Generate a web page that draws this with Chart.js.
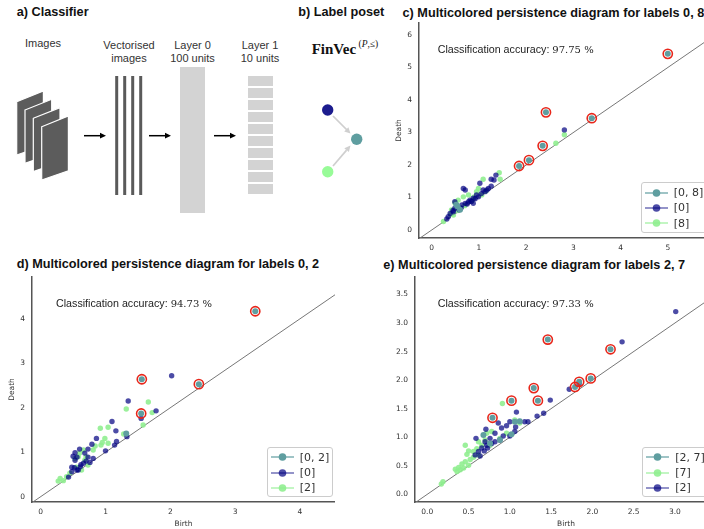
<!DOCTYPE html>
<html>
<head>
<meta charset="utf-8">
<script src="https://cdn.jsdelivr.net/npm/chart.js@4.4.1/dist/chart.umd.min.js"></script>
<style>
html, body { margin: 0; padding: 0; width: 704px; height: 529px; overflow: hidden; background: #fff; position: relative; font-family: 'Liberation Sans', Arial, sans-serif; }
.title { position: absolute; font-weight: bold; font-size: 12.7px; line-height: 14px; color: #111; white-space: nowrap; }
.acc { position: absolute; font-size: 10.7px; line-height: 12px; color: #222; white-space: nowrap; }
.acc span { font-family: 'DejaVu Serif', serif; font-size: 10px; }
canvas { position: absolute; }
.legend { position: absolute; box-sizing: border-box; border: 1px solid #ccc; border-radius: 3px; background: rgba(255,255,255,0.85); font-family: 'DejaVu Sans', sans-serif; font-size: 11px; color: #333; padding-top: 2px; }
.legend .row { height: 15.3px; display: flex; align-items: center; white-space: nowrap; }
.legend svg { margin-left: 3px; margin-right: 6px; }
</style>
</head>
<body>

<!-- a) classifier sketch and b) label poset -->
<svg style="position:absolute;left:0;top:0" width="400" height="230">
  <g font-family="Liberation Sans, Arial, sans-serif" font-size="11" fill="#333" text-anchor="middle">
    <text x="43" y="47">Images</text>
    <text x="129" y="49">Vectorised</text>
    <text x="129" y="62">images</text>
    <text x="192.5" y="49">Layer 0</text>
    <text x="192.5" y="62">100 units</text>
    <text x="260" y="49">Layer 1</text>
    <text x="260" y="62">10 units</text>
  </g>
  <g fill="#5c5c5c" stroke="#fff" stroke-width="1.2">
    <polygon points="16.7,101.7 43.4,91 43.4,145.7 16.7,155"/>
    <polygon points="25,110 51.7,99.3 51.7,154 25,163.3"/>
    <polygon points="33.3,118.3 60,107.6 60,162.3 33.3,171.6"/>
    <polygon points="41.7,126.7 68.4,116 68.4,170.7 41.7,180"/>
  </g>
  <g fill="#5a5a5a">
    <rect x="115.2" y="76" width="3" height="119"/>
    <rect x="123.2" y="76" width="3" height="119"/>
    <rect x="131.2" y="76" width="3" height="119"/>
    <rect x="139.2" y="76" width="3" height="119"/>
  </g>
  <rect x="180" y="67" width="25" height="146" fill="#d3d3d3"/>
  <g fill="#d3d3d3">
    <rect x="248" y="76" width="25" height="10"/>
    <rect x="248" y="88" width="25" height="10"/>
    <rect x="248" y="100" width="25" height="10"/>
    <rect x="248" y="112" width="25" height="10"/>
    <rect x="248" y="124" width="25" height="10"/>
    <rect x="248" y="136" width="25" height="10"/>
    <rect x="248" y="148" width="25" height="10"/>
    <rect x="248" y="160" width="25" height="10"/>
    <rect x="248" y="172" width="25" height="10"/>
    <rect x="248" y="184" width="25" height="10"/>
  </g>
  <g stroke="#000" stroke-width="1.5">
    <line x1="84" y1="135.7" x2="101" y2="135.7"/>
    <line x1="149" y1="135.7" x2="166" y2="135.7"/>
    <line x1="214" y1="135.7" x2="231" y2="135.7"/>
  </g>
  <g fill="#000">
    <polygon points="106,135.7 100,132.8 100,138.6"/>
    <polygon points="171,135.7 165,132.8 165,138.6"/>
    <polygon points="236,135.7 230,132.8 230,138.6"/>
  </g>

  <text x="311.7" y="54" font-family="Liberation Serif, Times New Roman, serif" font-weight="bold" font-size="15" fill="#111">FinVec</text>
  <text x="358.5" y="46.5" font-family="Liberation Serif, Times New Roman, serif" font-size="9.5" fill="#111">(<tspan font-style="italic">P</tspan>,≤)</text>
  <g stroke="#cfcfcf" stroke-width="1.7">
    <line x1="333" y1="116" x2="347" y2="130"/>
    <line x1="333" y1="166" x2="346.6" y2="150.1"/>
  </g>
  <g fill="#cfcfcf">
    <polygon points="350.5,133.5 344.2,131.4 348.4,127.2"/>
    <polygon points="350.5,145.5 348.9,152.1 344.3,148.2"/>
  </g>
  <circle cx="327.7" cy="110" r="5.7" fill="#1c1c8e"/>
  <circle cx="356.7" cy="139.3" r="5.7" fill="#5f9ea0"/>
  <circle cx="327.7" cy="171.7" r="5.7" fill="#98fb98"/>
</svg>

<div class="title" style="left:16.7px;top:4.7px">a) Classifier</div>
<div class="title" style="left:298.3px;top:4.7px">b) Label poset</div>
<div class="title" style="left:402.5px;top:6.3px">c) Multicolored persistence diagram for labels 0, 8</div>
<div class="title" style="left:16.7px;top:257px">d) Multicolored persistence diagram for labels 0, 2</div>
<div class="title" style="left:383.3px;top:258.3px">e) Multicolored persistence diagram for labels 2, 7</div>

<canvas id="chartC" width="326" height="243" style="left:389px;top:11px;width:326px;height:243px"></canvas>
<canvas id="chartD" width="333" height="267" style="left:2px;top:265px;width:333px;height:267px"></canvas>
<canvas id="chartE" width="332" height="267" style="left:385px;top:265px;width:332px;height:267px"></canvas>

<div class="acc" style="left:437.7px;top:43px">Classification accuracy: <span>97.75 %</span></div>
<div class="acc" style="left:56px;top:297px">Classification accuracy: <span>94.73 %</span></div>
<div class="acc" style="left:437.7px;top:297px">Classification accuracy: <span>97.33 %</span></div>

<div class="legend" id="legendC" style="left:640.7px;top:182px;width:68px;height:51px"></div>
<div class="legend" id="legendD" style="left:266.7px;top:446.7px;width:66.6px;height:50px"></div>
<div class="legend" id="legendE" style="left:642.3px;top:446.7px;width:68px;height:50.6px"></div>

<script>
// ---- c) labels 0, 8 : [birth, death] pairs ----
const c08Ringed = [[5.0, 5.42], [2.42, 3.62], [3.39, 3.44], [2.35, 2.59], [2.06, 2.15], [1.85, 1.97]];
const c08Plain = [[0.60, 0.62], [0.55, 0.72], [0.52, 0.78]];
const c0 = [[2.81, 3.08], [1.36, 1.69], [1.26, 1.56], [1.32, 1.54], [1.02, 1.44], [1.26, 1.35], [1.20, 1.28],
  [1.17, 1.23], [1.13, 1.18], [0.67, 1.28], [0.71, 1.23], [0.95, 1.08], [0.88, 0.98], [0.81, 0.92], [0.78, 0.87],
  [0.71, 0.82], [0.64, 0.77], [0.56, 0.70], [0.49, 0.67], [0.46, 0.56], [0.39, 0.51], [0.35, 0.41], [0.32, 0.34],
  [0.58, 0.62], [0.49, 0.87], [0.88, 0.82], [1.09, 1.23], [0.99, 1.02], [0.75, 0.80], [0.84, 0.88], [0.92, 0.96],
  [1.05, 1.12], [0.62, 0.68], [0.45, 0.60]];
const c8 = [[2.81, 2.93], [2.63, 2.67], [1.43, 1.76], [1.45, 1.56], [1.09, 1.56], [0.99, 1.28], [0.95, 1.18],
  [0.78, 1.08], [0.56, 0.92], [0.49, 0.84], [0.53, 0.74], [0.60, 0.67], [0.42, 0.62], [0.46, 0.46], [0.25, 0.26],
  [1.06, 1.08], [0.67, 1.02], [0.70, 0.75], [0.85, 0.90], [0.40, 0.48], [0.55, 0.60], [1.15, 1.20], [0.90, 1.02]];
const cXTicks = [0, 1, 2, 3, 4, 5];
const cYTicks = [0, 1, 2, 3, 4, 5, 6];

// ---- d) labels 0, 2 ----
const d02Ringed = [[3.31, 4.17], [1.56, 2.64], [2.44, 2.53], [1.55, 1.87]];
const d02Plain = [[1.32, 1.42]];
const d0 = [[2.02, 2.72], [1.35, 2.15], [1.78, 1.93], [1.55, 1.76], [1.10, 1.69], [1.16, 1.48], [1.33, 1.35],
  [1.17, 1.24], [1.14, 1.16], [1.00, 1.03], [0.86, 1.31], [0.79, 1.18], [0.73, 1.07], [0.60, 1.07], [0.53, 0.99],
  [0.56, 0.89], [0.50, 0.91], [0.73, 0.89], [0.81, 0.86], [0.76, 0.77], [0.66, 0.75], [0.61, 0.67], [0.58, 0.60],
  [0.48, 0.66], [0.48, 0.56], [0.43, 0.44], [0.56, 0.60], [0.53, 0.82], [0.68, 0.98], [0.62, 0.72], [0.70, 0.80],
  [0.52, 0.65]];
const d2 = [[1.66, 2.13], [1.32, 1.97], [1.72, 1.89], [1.58, 1.61], [0.92, 1.54], [1.04, 1.56], [0.99, 1.31],
  [1.04, 1.20], [0.93, 1.16], [1.28, 1.41], [0.81, 1.05], [0.66, 1.05], [0.58, 0.90], [0.68, 0.82], [0.73, 0.71],
  [0.63, 0.60], [0.45, 0.53], [0.30, 0.41], [0.27, 0.35], [0.35, 0.36], [0.53, 0.86], [0.84, 1.14], [0.95, 1.22],
  [0.60, 0.98], [0.70, 0.90], [0.40, 0.45], [0.55, 0.66]];
const dXTicks = [0, 1, 2, 3, 4];
const dYTicks = [0, 1, 2, 3, 4];

// ---- e) labels 2, 7 ----
const e27Ringed = [[1.46, 2.71], [2.22, 2.54], [1.98, 2.03], [1.84, 1.97], [1.79, 1.88], [1.29, 1.86],
  [1.02, 1.64], [1.34, 1.64], [0.79, 1.34]];
const e27Plain = [[1.06, 1.27], [1.02, 1.05], [0.76, 0.89], [0.68, 1.04], [1.12, 1.28], [0.88, 0.95]];
const e7 = [[0.91, 1.59], [0.46, 0.86], [0.50, 0.76], [0.56, 0.75], [0.52, 0.61], [0.46, 0.57], [0.42, 0.53],
  [0.38, 0.47], [0.34, 0.44], [0.40, 0.43], [0.44, 0.46], [0.50, 0.51], [0.17, 0.18], [0.19, 0.22], [0.62, 0.92],
  [0.66, 0.86], [0.72, 1.07], [0.78, 1.10], [0.88, 0.98], [0.96, 1.07], [1.12, 1.25], [1.06, 1.30], [0.62, 0.69],
  [0.36, 0.40], [0.76, 0.86], [0.56, 0.65], [0.60, 0.80], [0.48, 0.70], [0.70, 0.95]];
const e2 = [[3.01, 3.20], [2.36, 2.67], [1.84, 1.94], [1.72, 1.84], [1.49, 1.65], [1.41, 1.42], [1.33, 1.37],
  [1.08, 1.44], [0.86, 1.25], [0.71, 1.14], [0.96, 1.20], [1.00, 1.27], [0.90, 1.16], [0.82, 1.07], [0.76, 0.98],
  [0.70, 0.92], [0.72, 0.86], [0.66, 0.81], [0.62, 0.75], [0.58, 0.69], [0.64, 0.67], [0.82, 0.92], [0.88, 0.95],
  [1.07, 1.18], [1.06, 1.10], [1.18, 1.27], [1.22, 1.27], [0.59, 0.98], [0.78, 0.89], [0.73, 0.81], [0.69, 0.76],
  [1.00, 1.02], [0.92, 1.02]];
const eXTicks = [0, 0.5, 1, 1.5, 2, 2.5, 3];
const eYTicks = [0, 0.5, 1, 1.5, 2, 2.5, 3, 3.5];

const TEAL = '#5f9ea0';
const NAVY = 'rgba(0, 0, 128, 0.7)';
const GREEN = 'rgba(144, 238, 144, 0.9)';
const RING = '#e8261a';

const tickFont = { family: 'DejaVu Sans', size: 7.5 };
const titleFont = { family: 'DejaVu Sans', size: 7.5 };

function pts(arr) {
  return arr.map(p => ({ x: p[0], y: p[1] }));
}

function axis(o) {
  return {
    type: 'linear',
    min: o.min,
    max: o.max,
    afterBuildTicks: s => { s.ticks = o.ticks.map(v => ({ value: v })); },
    afterFit: s => { if (o.width) s.width = o.width; if (o.height) s.height = o.height; },
    grid: { display: false, drawTicks: false },
    border: { display: true, color: '#555', width: 1.5 },
    ticks: {
      autoSkip: false, maxRotation: 0, padding: o.pad, color: '#333', font: tickFont,
      callback: v => o.decimals ? v.toFixed(1) : String(v)
    },
    title: { display: !!o.title, text: o.title || '', color: '#333', font: titleFont, padding: o.titlePad }
  };
}

function persistence(id, o) {
  const datasets = [
    { label: 'ring', data: pts(o.ringed), pointRadius: 4.6, pointBorderWidth: 1.6,
      pointBorderColor: RING, pointBackgroundColor: 'rgba(0,0,0,0)' },
    { label: o.both, data: pts(o.ringed.concat(o.plain)), pointRadius: 3,
      pointBackgroundColor: TEAL, pointBorderWidth: 0 }
  ];
  o.singles.forEach(s => {
    datasets.push({ label: s.label, data: pts(s.data), pointRadius: 2.7,
      pointBackgroundColor: s.color, pointBorderWidth: 0 });
  });
  datasets.push({ label: 'diagonal', data: [{ x: -1, y: -1 }, { x: 10, y: 10 }], showLine: true,
    pointRadius: 0, borderColor: '#777', borderWidth: 1 });

  const chart = new Chart(document.getElementById(id), {
    type: 'scatter',
    data: { datasets },
    options: {
      responsive: false,
      animation: false,
      layout: { autoPadding: false, padding: { top: 12, left: 0, right: 0, bottom: 0 } },
      plugins: { legend: { display: false }, tooltip: { enabled: false } },
      scales: {
        x: axis({ min: o.xMin, max: o.xMax, ticks: o.xTicks, height: o.xH, pad: 6, decimals: o.decimals,
          title: o.xTitle, titlePad: { top: 0, bottom: 3.6 } }),
        y: axis({ min: o.yMin, max: o.yMax, ticks: o.yTicks, width: 30, pad: 7, decimals: o.decimals,
          title: o.yTitle, titlePad: 6 })
      }
    }
  });

  // legend in the lower right corner, built from the chart's datasets
  const box = document.getElementById(o.legend);
  o.legendOrder.forEach(label => {
    const ds = chart.data.datasets.find(d => d.label === label);
    const col = ds.pointBackgroundColor;
    const row = document.createElement('div');
    row.className = 'row';
    row.innerHTML = '<svg width="23" height="10"><line x1="0" y1="5" x2="23" y2="5" stroke="' + col +
      '" stroke-width="1.5" opacity="0.8"/><circle cx="11.5" cy="5" r="3.8" fill="' + col + '"/></svg><span>' +
      label + '</span>';
    box.appendChild(row);
  });
  return chart;
}

persistence('chartC', {
  ringed: c08Ringed, plain: c08Plain, both: '[0, 8]',
  singles: [{ label: '[0]', data: c0, color: NAVY }, { label: '[8]', data: c8, color: GREEN }],
  xMin: -0.269, xMax: 6.0, yMin: -0.246, yMax: 6.37, xTicks: cXTicks, yTicks: cYTicks,
  xH: 16, yTitle: 'Death', legend: 'legendC', legendOrder: ['[0, 8]', '[0]', '[8]']
});

persistence('chartD', {
  ringed: d02Ringed, plain: d02Plain, both: '[0, 2]',
  singles: [{ label: '[0]', data: d0, color: NAVY }, { label: '[2]', data: d2, color: GREEN }],
  xMin: -0.134, xMax: 4.54, yMin: -0.12, yMax: 4.94, xTicks: dXTicks, yTicks: dYTicks,
  xH: 30, xTitle: 'Birth', yTitle: 'Death', legend: 'legendD', legendOrder: ['[0, 2]', '[0]', '[2]']
});

persistence('chartE', {
  ringed: e27Ringed, plain: e27Plain, both: '[2, 7]',
  singles: [{ label: '[2]', data: e2, color: NAVY }, { label: '[7]', data: e7, color: GREEN }],
  xMin: -0.149, xMax: 3.51, yMin: -0.135, yMax: 3.806, xTicks: eXTicks, yTicks: eYTicks, decimals: true,
  xH: 30, xTitle: 'Birth', legend: 'legendE', legendOrder: ['[2, 7]', '[7]', '[2]']
});
</script>
</body>
</html>
